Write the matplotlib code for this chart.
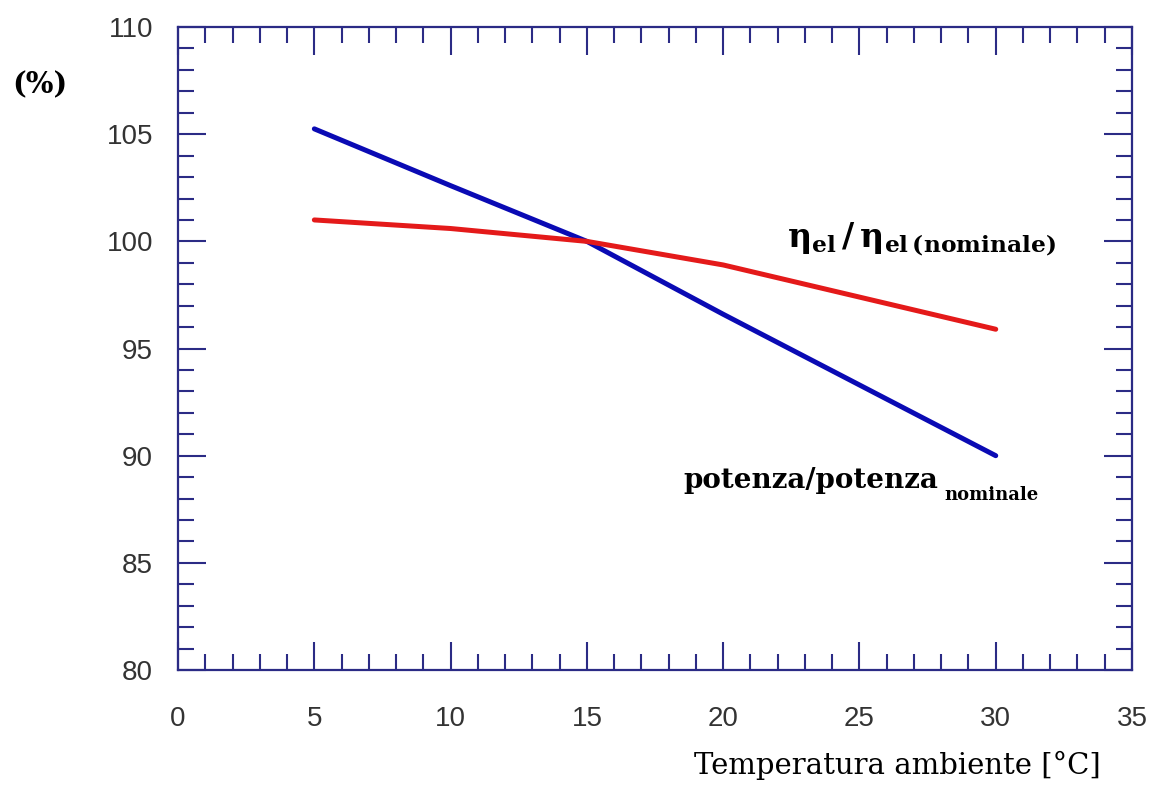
import numpy as np
import matplotlib
matplotlib.use("Agg")
import matplotlib.pyplot as plt
from matplotlib.ticker import MultipleLocator

# data
temp = [5, 10, 15, 20, 25, 30]
potenza = [105.25, 102.6, 100.0, 96.6, 93.3, 90.0]
rendimento = [101.0, 100.6, 100.0, 98.9, 97.4, 95.9]

xticks = [0, 5, 10, 15, 20, 25, 30, 35]
yticks = [80, 85, 90, 95, 100, 105, 110]

navy = "#2b2b85"

plt.rcParams['mathtext.fontset'] = 'custom'
plt.rcParams['mathtext.rm'] = 'DejaVu Serif:bold'
plt.rcParams['mathtext.it'] = 'DejaVu Serif:bold'
plt.rcParams['mathtext.bf'] = 'DejaVu Serif:bold'

fig = plt.figure(figsize=(11.51, 7.96), dpi=100)
ax = fig.add_axes([0.1547, 0.1583, 0.8288, 0.8077])

ax.plot(temp, potenza, color="#0a0ab4", lw=3.6, solid_capstyle="round")
ax.plot(temp, rendimento, color="#e41a1a", lw=3.6, solid_capstyle="round")

ax.set_xlim(0, 35)
ax.set_ylim(80, 110)
ax.set_xticks(xticks)
ax.set_yticks(yticks)
ax.xaxis.set_minor_locator(MultipleLocator(1))
ax.yaxis.set_minor_locator(MultipleLocator(1))

for s in ax.spines.values():
    s.set_color(navy)
    s.set_linewidth(1.6)

ax.tick_params(which="both", direction="in", top=True, right=True,
               color=navy, width=1.5)
ax.tick_params(which="major", length=20)
ax.tick_params(which="minor", length=11.5)
ax.tick_params(axis="x", which="major", pad=26, labelsize=20, labelcolor="#333333")
ax.tick_params(axis="y", which="major", pad=18, labelsize=20, labelcolor="#333333")
for lab in ax.get_xticklabels() + ax.get_yticklabels():
    lab.set_fontfamily("Liberation Sans")

ax.text(22.35, 99.75, r"$\eta_{el}\,/\,\eta_{el\,(nominale)}$",
        ha="left", va="baseline", fontsize=24)
ax.text(18.53, 88.5, "potenza/potenza", ha="left", va="baseline",
        fontsize=20, fontfamily="DejaVu Serif", fontweight="bold")
ax.text(28.1, 87.95, "nominale", ha="left", va="baseline",
        fontsize=13, fontfamily="DejaVu Serif", fontweight="bold")

fig.text(0.011, 0.893, "(%)", ha="left", va="center", fontsize=21,
         fontfamily="DejaVu Serif", fontweight="bold")
fig.text(0.956, 0.039, "Temperatura ambiente [°C]", ha="right", va="center",
         fontsize=21, fontfamily="DejaVu Serif")

fig.savefig("out.png", dpi=100)
